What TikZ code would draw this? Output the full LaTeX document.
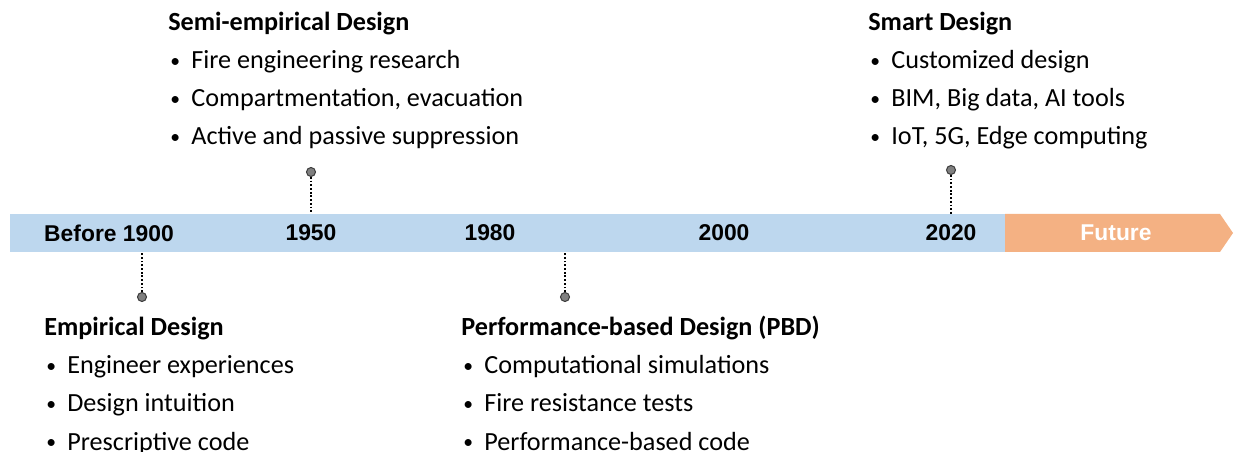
\documentclass[tikz,border=0pt]{standalone}
\usepackage{fontspec}
\setmainfont{Carlito}
\newfontfamily\barfont{Liberation Sans}
\usetikzlibrary{positioning}
\definecolor{pastblue}{RGB}{189,215,238}
\definecolor{futureorange}{RGB}{244,177,131}
\definecolor{dotgray}{RGB}{128,128,128}
\newcommand{\itembullet}{\makebox[0.46cm][l]{\hspace{1.2pt}\raisebox{0.12ex}{\scalebox{0.75}{\textbullet}}}}

\begin{document}
\begin{tikzpicture}[
    x=0.02cm, y=-0.02cm,
    bar/.style={rectangle, fill=pastblue, minimum width=19.9cm, minimum height=0.76cm, inner sep=0pt},
    year/.style={font=\barfont\bfseries\fontsize{13}{15}\selectfont, inner sep=0pt},
    title/.style={anchor=base west, inner sep=0pt, font=\bfseries\fontsize{14.9}{18}\selectfont},
    item/.style={anchor=base west, inner sep=0pt, font=\fontsize{14.9}{18}\selectfont},
    marker/.style={circle, draw=black!75, fill=dotgray, line width=0.6pt, minimum size=0.18cm, inner sep=0pt},
    stem/.style={line width=1pt, dash pattern=on 1pt off 1.1pt}
]
    \useasboundingbox (0,0) rectangle (1234,452);

    % Time bar
    \node[bar] (past) at (507.5,233) {};
    \fill[futureorange] (1005,214) -- (1220,214) -- (1233,233) -- (1220,252) -- (1005,252) -- cycle;
    \node[year, text=white] (future) at (1116,233) {Future};

    % Years
    \node[year] (y1900) at (109,233) {Before 1900};
    \node[year] (y1950) at (311,233) {1950};
    \node[year] (y1980) at (490,233) {1980};
    \node[year] (y2000) at (724,233) {2000};
    \node[year] (y2020) at (951,233) {2020};

    % Markers
    \node[marker] (m1900) at (142,297) {};
    \node[marker] (m1950) at (311,172) {};
    \node[marker] (mpbd) at (565,297) {};
    \node[marker] (m2020) at (951,170) {};
    \draw[stem] (m1900) -- (m1900 |- past.south);
    \draw[stem] (m1950) -- (m1950 |- past.north);
    \draw[stem] (mpbd) -- (mpbd |- past.south);
    \draw[stem] (m2020) -- (m2020 |- past.north);

    % Empirical
    \node[title] (emp) at (44,336) {Empirical Design};
    \node[item] (emp1) at (44,374) {\itembullet Engineer experiences};
    \node[item] (emp2) at (44,412) {\itembullet Design intuition};
    \node[item] (emp3) at (44,450) {\itembullet Prescriptive code};

    % Semi-empirical
    \node[title] (semi) at (168,31) {Semi-empirical Design};
    \node[item] (semi1) at (168,69) {\itembullet Fire engineering research};
    \node[item] (semi2) at (168,107) {\itembullet Compartmentation, evacuation};
    \node[item] (semi3) at (168,145) {\itembullet Active and passive suppression};

    % Performance-based
    \node[title] (pbd) at (461,336) {Performance-based Design (PBD)};
    \node[item] (pbd1) at (461,374) {\itembullet Computational simulations};
    \node[item] (pbd2) at (461,412) {\itembullet Fire resistance tests};
    \node[item] (pbd3) at (461,450) {\itembullet Performance-based\ code};

    % Smart
    \node[title] (smart) at (868,31) {Smart Design};
    \node[item] (smart1) at (868,69) {\itembullet Customized design};
    \node[item] (smart2) at (868,107) {\itembullet BIM, Big data, AI tools};
    \node[item] (smart3) at (868,145) {\itembullet IoT, 5G, Edge computing};
\end{tikzpicture}
\end{document}
